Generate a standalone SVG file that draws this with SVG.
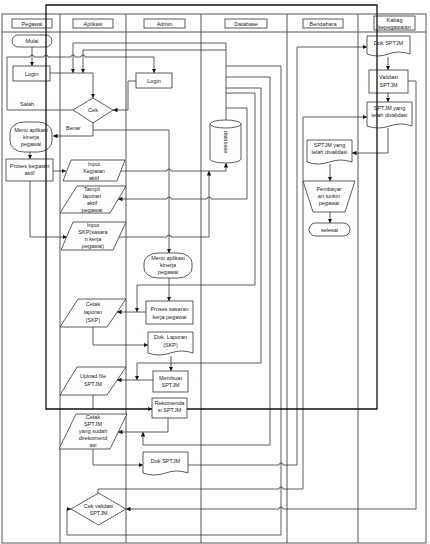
<svg xmlns="http://www.w3.org/2000/svg" width="430" height="544" viewBox="0 0 430 544">
<defs>
<marker id="ar" viewBox="0 0 6 6" refX="6" refY="3" markerWidth="4.5" markerHeight="4.5" orient="auto" markerUnits="userSpaceOnUse"><path d="M0,0 L6,3 L0,6 Z" fill="#111"/></marker>
</defs>
<style>
.lane{fill:none;stroke:#555;stroke-width:1}
.hb{fill:#fff;stroke:#333;stroke-width:0.8}
.n{fill:#fff;stroke:#333;stroke-width:0.8}
.c{fill:none;stroke:#333;stroke-width:0.8}
.ca{fill:none;stroke:#333;stroke-width:0.8;marker-end:url(#ar)}
.thick{fill:none;stroke:#111;stroke-width:1.3}
text{font-family:"Liberation Sans",Arial,sans-serif;font-size:5.5px;fill:#222;text-anchor:middle}
.lbl{text-anchor:start}
</style>
<rect width="430" height="544" fill="#fff"/>
<g id="lanes">
<rect class="lane" x="2" y="14" width="424" height="529"/>
<line class="lane" x1="2" y1="32" x2="426" y2="32"/>
<line class="lane" x1="60" y1="14" x2="60" y2="543"/>
<line class="lane" x1="126" y1="14" x2="126" y2="543"/>
<line class="lane" x1="201" y1="14" x2="201" y2="543"/>
<line class="lane" x1="287" y1="14" x2="287" y2="543"/>
<line class="lane" x1="358" y1="14" x2="358" y2="543"/>
</g>
<g id="connectors">
<path class="ca" d="M32,47 V66"/>
<path class="ca" d="M73,110 H7 V57 H30 a2,2 0 0 1 4,0 H44 a2,2 0 0 1 4,0 H71 a2,2 0 0 1 4,0 H81 a2,2 0 0 1 4,0 H154 V73"/>
<path class="ca" d="M50,73 H93 V98"/>
<path class="ca" d="M136,81 H128 V110 H113"/>
<path class="ca" d="M93,123 V136 H53"/>
<path class="ca" d="M93,130 H169 V253"/>
<path class="ca" d="M226,120 V43 H73 V73"/>
<path class="ca" d="M226,50 H83 V73"/>
<path class="ca" d="M30,152 V159"/>
<path class="ca" d="M53,171 H66"/>
<path class="ca" d="M121,171 H167 a2,2 0 0 1 4,0 H226 V163"/>
<path class="ca" d="M30,181 V237 H67"/>
<path class="ca" d="M119,237 H167 a2,2 0 0 1 4,0 H209 V171"/>
<path class="ca" d="M226,108 H247 V199 H211 a2,2 0 0 0 -4,0 H171 a2,2 0 0 0 -4,0 H118"/>
<path class="ca" d="M226,93 H255 V285 H137 V312"/>
<path class="ca" d="M226,88 H261 V363 H137 V380"/>
<path class="ca" d="M226,77 H270 V445 H143 V432"/>
<path class="ca" d="M226,66 H281 V535 H67 V509 H71"/>
<path class="ca" d="M169,278 V301"/>
<path class="ca" d="M146,312 H117"/>
<path class="ca" d="M93,327 V345 H148"/>
<path class="ca" d="M171,356 V371"/>
<path class="ca" d="M153,380 H117"/>
<path class="c" d="M93,395 V409"/>
<path class="ca" d="M168,418 V432 H118"/>
<path class="ca" d="M93,449 V465 H143"/>
<path class="ca" d="M188,465 H279 a2,2 0 0 1 4,0 H297 V47 H367"/>
<path class="ca" d="M98,493 V489 H279 a2,2 0 0 1 4,0 H303 V117 H367"/>
<path class="ca" d="M408,81 H416 V509 H283 a2,2 0 0 0 -4,0 H126"/>
<path class="ca" d="M388,57 V70"/>
<path class="ca" d="M388,93 V102"/>
<path class="ca" d="M388,128 V153 H352"/>
<path class="ca" d="M330,164 V181"/>
<path class="ca" d="M330,212 V223"/>
</g>
<g id="h-pegawai"><rect class="hb" x="12" y="19" width="40" height="9"/><text x="32" y="25.5">Pegawai</text></g>
<g id="h-aplikasi"><rect class="hb" x="73" y="19" width="40" height="9"/><text x="93" y="25.5">Aplikasi</text></g>
<g id="h-admin"><rect class="hb" x="144" y="19" width="41" height="9"/><text x="164.5" y="25.5">Admin</text></g>
<g id="h-database"><rect class="hb" x="225" y="19" width="42" height="9"/><text x="246" y="25.5">Database</text></g>
<g id="h-bendahara"><rect class="hb" x="303" y="19" width="40" height="9"/><text x="323" y="25.5">Bendahara</text></g>
<g id="h-kabag"><rect class="hb" x="374" y="16" width="41" height="14"/><text x="394.5" y="22">Kabag</text><text x="394.5" y="28.5">kepegawaian</text></g>

<g id="mulai"><rect class="n" x="12" y="35" width="40" height="12" rx="6"/><text x="32" y="43">Mulai</text></g>
<g id="login-pegawai"><rect class="n" x="13" y="66" width="37" height="15"/><text x="31.5" y="75.5">Login</text></g>
<g id="salah"><text class="lbl" x="20" y="106">Salah</text></g>
<g id="menu-pegawai"><rect class="n" x="10" y="122" width="42" height="30" rx="14" ry="11"/><text x="31" y="132">Menu aplikasi</text><text x="31" y="139">kinerja</text><text x="31" y="146">pegawai</text></g>
<g id="proses-kegiatan"><rect class="n" x="6" y="159" width="47" height="22"/><text x="29.5" y="168">Proses kegiatan</text><text x="29.5" y="175">aktif</text></g>

<g id="cek"><polygon class="n" points="73,110 93,98 113,110 93,123"/><text x="93" y="112">Cek</text></g>
<g id="benar"><text class="lbl" x="66" y="130">Benar</text></g>
<g id="input-kegiatan"><polygon class="n" points="71,160 125,160 117,181 63,181"/><text x="94" y="166">Input</text><text x="94" y="173">Kegiatan</text><text x="94" y="180">aktif</text></g>
<g id="tampil-laporan"><polygon class="n" points="77,186 126,186 110,213 60,213"/><text x="92" y="191">Tampil</text><text x="92" y="198">laporan</text><text x="92" y="205">aktif</text><text x="92" y="212">pegawai</text></g>
<g id="input-skp"><polygon class="n" points="73,222 126,222 113,250 61,250"/><text x="93" y="227">Input</text><text x="93" y="234">SKP(sasara</text><text x="93" y="241">n kerja</text><text x="93" y="248">pegawai)</text></g>
<g id="cetak-laporan"><polygon class="n" points="78,299 126,299 107,327 60,327"/><text x="93" y="306">Cetak</text><text x="93" y="314">laporan</text><text x="93" y="322">(SKP)</text></g>
<g id="upload"><polygon class="n" points="77,367 126,367 107,395 60,395"/><text x="93" y="378">Upload file</text><text x="93" y="386">SPTJM</text></g>
<g id="cetak-sptjm"><polygon class="n" points="76,414 127,414 110,449 59,449"/><text x="93" y="419">Cetak</text><text x="93" y="426">SPTJM</text><text x="93" y="433">yang sudah</text><text x="93" y="440">direkomend</text><text x="93" y="447">asi</text></g>
<g id="cek-validasi"><polygon class="n" points="71,509 98.5,493 126,509 98.5,525"/><text x="98.5" y="508">Cek validasi</text><text x="98.5" y="515">SPTJM</text></g>

<g id="login-admin"><rect class="n" x="136" y="73" width="36" height="15"/><text x="154" y="82.5">Login</text></g>
<g id="menu-admin"><rect class="n" x="144" y="253" width="48" height="25" rx="14" ry="10"/><text x="168" y="260">Menu aplikasi</text><text x="168" y="267">kinerja</text><text x="168" y="274">pegawai</text></g>
<g id="proses-sasaran"><rect class="n" x="146" y="301" width="47" height="23"/><text x="169.5" y="311">Proses sasaran</text><text x="169.5" y="319">kerja pegawai</text></g>
<g id="dok-laporan"><path class="n" d="M148,332 H193 V353 Q181.75,349 170.5,353 T148,353 Z"/><text x="170.5" y="339">Dok.  Laporan</text><text x="170.5" y="347">(SKP)</text></g>
<g id="membuat"><rect class="n" x="153" y="371" width="35" height="21"/><text x="170.5" y="380">Membuat</text><text x="170.5" y="387">SPTJM</text></g>
<g id="rekomendasi"><rect class="n" x="152" y="398" width="35" height="20"/><text x="169.5" y="405">Rekomenda</text><text x="169.5" y="412">si SPTJM</text></g>
<g id="dok-sptjm-admin"><path class="n" d="M143,452 H188 V473 Q176.75,469 165.5,473 T143,473 Z"/><text x="165.5" y="463">Dok  SPTJM</text></g>

<g id="database"><path class="n" d="M210,124 A15.5,4 0 0 1 241,124 V159 A15.5,4 0 0 1 210,159 Z"/><path class="c" d="M210,124 A15.5,4 0 0 0 241,124"/><text x="0" y="0" transform="translate(224,142) rotate(90)">database</text></g>

<g id="sptjm-bendahara"><path class="n" d="M307,140 H352 V162 Q340.75,158 329.5,162 T307,162 Z"/><text x="329.5" y="147">SPTJM yang</text><text x="329.5" y="154">telah divalidasi</text></g>
<g id="pembayaran"><polygon class="n" points="303,181 355,181 345,212 313,212"/><text x="329" y="191">Pembayar</text><text x="329" y="198">an tunkin</text><text x="329" y="205">pegawai</text></g>
<g id="selesai"><rect class="n" x="309" y="223" width="41" height="13" rx="6.5"/><text x="329.5" y="231.5">selesai</text></g>

<g id="dok-sptjm-kabag"><path class="n" d="M367,36 H410 V54 Q399.25,50 388.5,54 T367,54 Z"/><text x="388.5" y="45">Dok  SPTJM</text></g>
<g id="validasi"><rect class="n" x="369" y="70" width="39" height="23"/><text x="388.5" y="79">Validasi</text><text x="388.5" y="87">SPTJM</text></g>
<g id="sptjm-kabag"><path class="n" d="M367,102 H412 V126 Q400.75,122 389.5,126 T367,126 Z"/><text x="389.5" y="110">SPTJM yang</text><text x="389.5" y="117">telah divalidasi</text></g>

<g id="connectors-loop">
<path class="thick" d="M187,409 H377 V5 H46 V409 H152" marker-end="url(#ar)"/>
</g>
</svg>
